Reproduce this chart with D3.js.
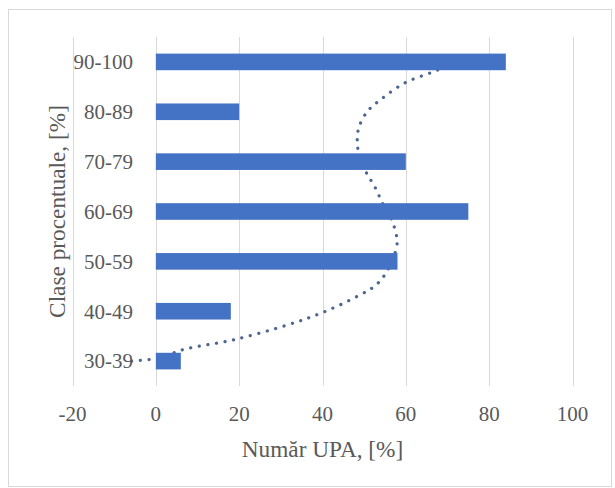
<!DOCTYPE html>
<html>
<head>
<meta charset="utf-8">
<script src="https://cdn.jsdelivr.net/npm/d3@7"></script>
<style>
    body { margin: 0; background: #fff; }
    text { font-family: "Liberation Serif", "Times New Roman", serif; fill: #595959; }
</style>
</head>
<body>
<div id="chart"></div>
<script>
const categories = ["30-39", "40-49", "50-59", "60-69", "70-79", "80-89", "90-100"];
const values = [6, 18, 58, 75, 60, 20, 84];
const xTicks = [-20, 0, 20, 40, 60, 80, 100];

// trendline: value vs. category position (0 = first class)
const trendX =   [-5.8, 0.5, 7.0, 18.3, 31.4, 40.2, 48.6, 52.6, 55.4, 57.8, 57.8, 56.6, 54.6, 52.6, 50.4, 48.4, 48.4, 48.7, 50.7, 54.2, 59.8, 66.2, 70.0];
const trendPos = [0.0, 0.06, 0.24, 0.42, 0.72, 0.98, 1.31, 1.51, 1.79, 2.29, 2.49, 2.83, 3.13, 3.49, 3.80, 4.30, 4.50, 4.68, 5.00, 5.26, 5.58, 5.79, 5.92];

const width = 615;
const height = 488;
const plot = { left: 72.5, right: 572.5, top: 37, bottom: 386 };

const svg = d3.select("#chart").append("svg")
    .attr("width", width)
    .attr("height", height);

svg.append("rect")
    .attr("x", 8.5).attr("y", 9.5)
    .attr("width", 603).attr("height", 477)
    .attr("fill", "#fff")
    .attr("stroke", "#d9d9d9");

const x = d3.scaleLinear().domain([-20, 100]).range([plot.left, plot.right]);
const y = d3.scaleBand().domain(categories.slice().reverse())
    .range([plot.top, plot.bottom]).paddingInner(0.667).paddingOuter(0.333);
const yPos = d3.scaleLinear().domain([0, categories.length - 1])
    .range([y(categories[0]) + y.bandwidth() / 2, y(categories[categories.length - 1]) + y.bandwidth() / 2]);

// gridlines
svg.append("g")
    .selectAll("line")
    .data(xTicks)
    .join("line")
    .attr("x1", d => Math.round(x(d)) + 0.5)
    .attr("x2", d => Math.round(x(d)) + 0.5)
    .attr("y1", plot.top)
    .attr("y2", plot.bottom)
    .attr("stroke", "#d9d9d9")
    .attr("stroke-width", 1);

// trendline (drawn under the bars)
const trend = trendX.map((v, i) => [v, trendPos[i]]);
svg.append("path")
    .datum(trend)
    .attr("fill", "none")
    .attr("stroke", "#4d6691")
    .attr("stroke-width", 3.2)
    .attr("stroke-linecap", "round")
    .attr("stroke-dasharray", "0.1 8.6")
    .attr("d", d3.line().x(d => x(d[0])).y(d => yPos(d[1])).curve(d3.curveCatmullRom));

// bars
svg.append("g")
    .selectAll("rect")
    .data(categories)
    .join("rect")
    .attr("x", x(0))
    .attr("y", d => y(d))
    .attr("height", y.bandwidth())
    .attr("width", (d, i) => x(values[i]) - x(0))
    .attr("fill", "#4472c4");

// category labels
svg.append("g")
    .selectAll("text")
    .data(categories)
    .join("text")
    .attr("x", 133)
    .attr("y", d => y(d) + y.bandwidth() / 2)
    .attr("dy", "0.35em")
    .attr("text-anchor", "end")
    .attr("font-size", 21)
    .text(d => d);

// value axis labels
svg.append("g")
    .selectAll("text")
    .data(xTicks)
    .join("text")
    .attr("x", d => x(d))
    .attr("y", 421)
    .attr("text-anchor", "middle")
    .attr("font-size", 21)
    .text(d => d);

svg.append("text")
    .attr("x", (plot.left + plot.right) / 2)
    .attr("y", 457)
    .attr("text-anchor", "middle")
    .attr("font-size", 23.3)
    .text("Număr UPA, [%]");

svg.append("text")
    .attr("transform", `translate(65,${(plot.top + plot.bottom) / 2}) rotate(-90)`)
    .attr("text-anchor", "middle")
    .attr("font-size", 23.3)
    .text("Clase procentuale, [%]");
</script>
</body>
</html>
